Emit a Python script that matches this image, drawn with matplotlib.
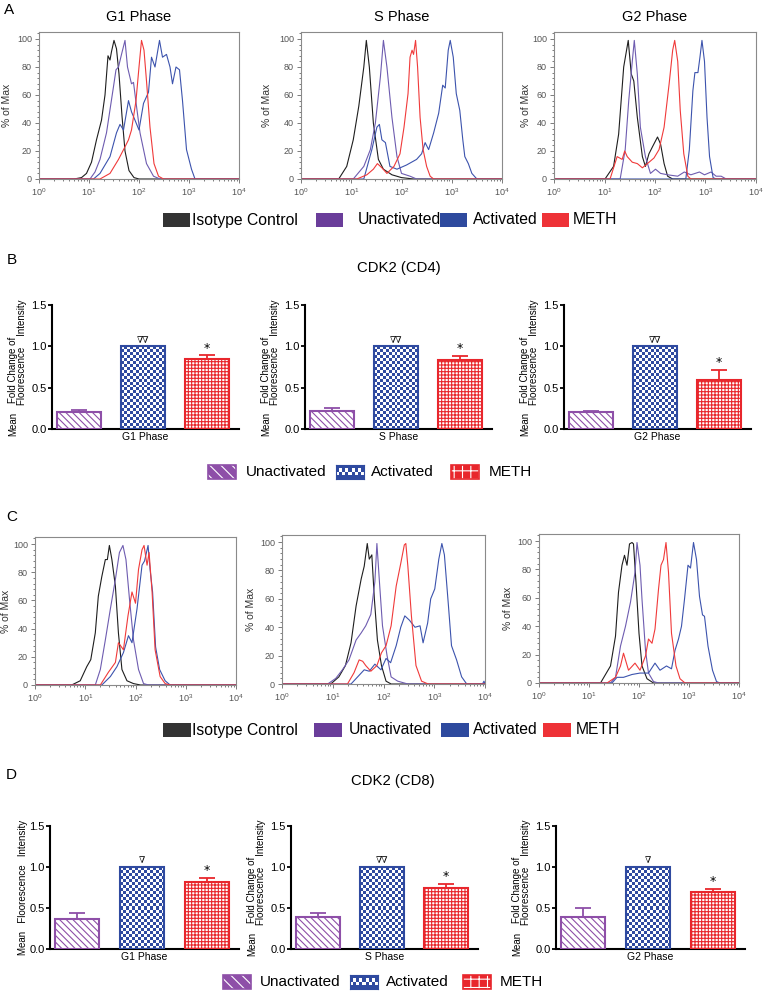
import numpy as np
import matplotlib
matplotlib.use('Agg')
import matplotlib.pyplot as plt
from matplotlib.colors import ListedColormap
from matplotlib.patches import Rectangle
from matplotlib.ticker import AutoMinorLocator

plt.rcParams['font.family'] = ['Liberation Sans', 'DejaVu Sans']
plt.rcParams['hatch.linewidth'] = 0.8

# ---- histogram traces: (log10 intensity, % of max) ----
a_g1_iso = [(0,0),(0.7,0),(0.85,1),(0.95,4),(1.05,12),(1.15,28),(1.25,42),(1.32,60),(1.38,88),(1.42,85),(1.45,91),(1.5,99),(1.55,93),(1.6,75),(1.66,45),(1.72,20),(1.8,6),(1.9,1),(2.0,0),(4,0)]
a_g1_unact = [(0,0),(1.02,0),(1.12,5),(1.22,14),(1.35,33),(1.49,66),(1.54,78),(1.59,80),(1.65,89),(1.72,99),(1.77,80),(1.85,68),(1.89,69),(1.95,52),(2.02,33),(2.15,11),(2.29,2),(2.42,0),(4,0)]
a_g1_act = [(0,0),(1.09,0),(1.22,4),(1.42,16),(1.55,33),(1.62,39),(1.69,35),(1.79,56),(1.85,48),(1.92,42),(2.0,35),(2.09,54),(2.19,62),(2.25,87),(2.32,80),(2.41,99),(2.47,87),(2.55,89),(2.62,80),(2.67,68),(2.74,80),(2.81,78),(2.87,56),(2.95,21),(3.05,7),(3.12,0),(4,0)]
a_g1_meth = [(0,0),(1.22,0),(1.42,4),(1.59,14),(1.72,23),(1.79,28),(1.85,35),(1.94,56),(2.0,80),(2.05,99),(2.1,92),(2.15,70),(2.22,37),(2.3,11),(2.39,2),(2.49,0),(4,0)]

a_s_iso = [(0,0),(0.75,0),(0.91,9),(1.04,28),(1.15,52),(1.25,80),(1.3,99),(1.36,80),(1.44,40),(1.54,14),(1.64,7),(1.81,3),(2.0,1),(2.24,0),(4,0)]
a_s_unact = [(0,0),(1.04,0),(1.25,9),(1.38,21),(1.48,40),(1.58,73),(1.64,99),(1.71,80),(1.81,44),(1.91,16),(2.0,4),(2.17,2),(2.3,0),(4,0)]
a_s_act = [(0,0),(1.25,0),(1.41,21),(1.51,37),(1.56,39),(1.61,28),(1.68,26),(1.77,9),(1.91,7),(2.1,10),(2.3,14),(2.4,18),(2.47,26),(2.54,21),(2.64,33),(2.74,47),(2.82,67),(2.87,65),(2.93,92),(2.97,99),(3.03,87),(3.09,61),(3.16,49),(3.22,28),(3.26,16),(3.33,11),(3.4,4),(3.5,0),(4,0)]
a_s_meth = [(0,0),(1.11,0),(1.31,3),(1.44,7),(1.52,11),(1.61,8),(1.71,4),(1.85,9),(1.97,18),(2.05,37),(2.13,61),(2.17,87),(2.21,92),(2.24,89),(2.28,99),(2.32,80),(2.37,44),(2.43,21),(2.5,9),(2.57,2),(2.64,0),(4,0)]

a_g2_iso = [(0,0),(1.01,0),(1.18,9),(1.28,32),(1.38,80),(1.47,99),(1.53,75),(1.58,70),(1.65,44),(1.75,16),(1.81,9),(1.88,18),(1.95,23),(2.05,30),(2.11,25),(2.18,11),(2.25,2),(2.35,0),(4,0)]
a_g2_unact = [(0,0),(1.31,0),(1.41,21),(1.48,56),(1.55,84),(1.59,99),(1.65,75),(1.71,37),(1.81,16),(1.91,4),(2.01,7),(2.11,4),(2.25,3),(2.45,2),(2.58,5),(2.71,3),(2.88,5),(2.98,3),(3.11,5),(3.21,2),(3.31,2),(3.41,0),(4,0)]
a_g2_act = [(0,0),(2.61,0),(2.68,21),(2.75,63),(2.79,76),(2.85,76),(2.89,87),(2.93,99),(2.98,84),(3.03,44),(3.08,16),(3.15,1),(3.21,0),(4,0)]
a_g2_meth = [(0,0),(1.11,0),(1.25,16),(1.35,14),(1.4,20),(1.45,16),(1.55,12),(1.65,11),(1.75,8),(1.85,11),(1.98,15),(2.08,21),(2.18,37),(2.28,68),(2.35,92),(2.39,99),(2.45,84),(2.5,49),(2.57,18),(2.65,2),(2.71,0),(4,0)]

c_g1_iso = [(0,0),(0.73,0),(0.9,3),(1.03,13),(1.11,18),(1.2,37),(1.26,63),(1.33,77),(1.4,89),(1.44,89),(1.48,99),(1.53,89),(1.6,70),(1.66,37),(1.73,11),(1.83,3),(1.96,1),(2.1,0),(4,0)]
c_g1_unact = [(0,0),(1.2,0),(1.3,11),(1.4,32),(1.5,54),(1.6,75),(1.68,94),(1.75,99),(1.81,89),(1.88,61),(1.96,32),(2.06,11),(2.16,1),(2.26,0),(4,0)]
c_g1_act = [(0,0),(1.33,0),(1.5,6),(1.63,13),(1.76,23),(1.86,35),(1.93,30),(2.03,54),(2.13,85),(2.18,88),(2.25,99),(2.29,82),(2.34,66),(2.4,27),(2.48,11),(2.59,3),(2.69,0),(4,0)]
c_g1_meth = [(0,0),(1.3,0),(1.46,9),(1.6,16),(1.66,30),(1.76,25),(1.85,49),(1.93,66),(2.0,58),(2.06,82),(2.13,96),(2.17,99),(2.23,85),(2.27,94),(2.33,66),(2.39,25),(2.49,6),(2.59,1),(2.69,0),(4,0)]

c_s_iso = [(0,0),(0.96,0),(1.12,5),(1.25,13),(1.36,29),(1.46,55),(1.56,74),(1.62,83),(1.68,99),(1.72,88),(1.77,91),(1.82,60),(1.88,31),(1.96,13),(2.05,2),(2.15,0),(4,0)]
c_s_unact = [(0,0),(0.9,0),(1.06,4),(1.19,10),(1.32,17),(1.46,31),(1.56,36),(1.65,41),(1.75,49),(1.83,72),(1.87,99),(1.92,72),(1.98,41),(2.07,20),(2.15,5),(2.28,2),(2.48,0),(4,0)]
c_s_act = [(0,0),(1.36,0),(1.49,5),(1.62,10),(1.72,9),(1.83,14),(1.95,10),(2.05,18),(2.14,15),(2.25,27),(2.34,40),(2.42,48),(2.51,45),(2.62,40),(2.72,41),(2.78,29),(2.87,43),(2.93,60),(3.01,67),(3.09,88),(3.15,99),(3.2,91),(3.28,55),(3.34,27),(3.44,17),(3.54,5),(3.64,0),(3.95,0),(3.98,2),(4,0)]
c_s_meth = [(0,0),(1.29,0),(1.42,8),(1.52,17),(1.59,16),(1.65,13),(1.75,9),(1.87,13),(1.96,22),(2.05,27),(2.15,41),(2.25,69),(2.34,85),(2.41,98),(2.44,99),(2.48,83),(2.55,48),(2.64,13),(2.75,2),(2.88,0),(4,0)]

c_g2_iso = [(0,0),(1.23,0),(1.43,12),(1.53,33),(1.59,64),(1.66,83),(1.71,90),(1.76,83),(1.81,98),(1.86,99),(1.89,98),(1.94,71),(2.0,35),(2.06,12),(2.16,3),(2.29,0),(4,0)]
c_g2_unact = [(0,0),(1.43,0),(1.53,4),(1.63,26),(1.73,40),(1.83,57),(1.92,78),(1.96,99),(2.02,83),(2.06,59),(2.13,23),(2.19,7),(2.29,1),(2.39,0),(4,0)]
c_g2_act = [(0,0),(1.46,0),(1.56,4),(1.69,4),(1.86,6),(2.02,7),(2.19,7),(2.32,14),(2.42,9),(2.55,12),(2.65,10),(2.72,23),(2.79,31),(2.85,40),(2.91,59),(2.98,83),(3.03,81),(3.09,99),(3.15,87),(3.21,61),(3.27,48),(3.31,47),(3.38,26),(3.47,9),(3.55,1),(3.62,0),(4,0)]
c_g2_meth = [(0,0),(1.36,0),(1.53,4),(1.63,12),(1.69,21),(1.79,9),(1.92,14),(2.02,9),(2.13,19),(2.19,31),(2.26,28),(2.32,38),(2.39,66),(2.44,83),(2.49,87),(2.54,99),(2.59,78),(2.65,35),(2.74,12),(2.82,3),(2.92,0),(4,0)]

# ---- bar chart values ----
phases = ['G1 Phase', 'S Phase', 'G2 Phase']
groups = ['Unactivated', 'Activated', 'METH']
hist_groups = ['Isotype Control', 'Unactivated', 'Activated', 'METH']

cd4_unact = [0.21, 0.22, 0.20]
cd4_unact_err = [0.02, 0.04, 0.02]
cd4_act = [1.0, 1.0, 1.0]
cd4_meth = [0.85, 0.84, 0.59]
cd4_meth_err = [0.04, 0.04, 0.12]
cd4_marks = ['\u2207\u2207', '\u2207\u2207', '\u2207\u2207']

cd8_unact = [0.37, 0.39, 0.39]
cd8_unact_err = [0.07, 0.05, 0.11]
cd8_act = [1.0, 1.0, 1.0]
cd8_meth = [0.82, 0.75, 0.69]
cd8_meth_err = [0.05, 0.04, 0.04]
cd8_marks = ['\u2207', '\u2207\u2207', '\u2207']

line_colors = ['#1e1e1e', '#6e5cb0', '#3c53ad', '#f03a3a']
legend_colors = ['#333333', '#6a3d9a', '#2e4a9e', '#ee3237']
c_unact = '#8e4fa8'
c_act = '#2f4aa0'
c_meth = '#e8262c'

W, H = 764, 998
fig = plt.figure(figsize=(W / 100, H / 100), dpi=100)


def add_ax(l, t, r, b):
    return fig.add_axes([l / W, 1 - b / H, (r - l) / W, (b - t) / H])


def ftext(x, y, s, **kw):
    fig.text(x / W, 1 - y / H, s, **kw)


def hist_panel(ax, curves, label_dx, title=None):
    for pts, col in zip(curves, line_colors):
        arr = np.array(pts)
        ax.plot(10 ** arr[:, 0], arr[:, 1], color=col, lw=0.8)
    ax.set_xscale('log')
    ax.set_xlim(1, 1e4)
    ax.set_ylim(0, 105)
    ax.set_yticks(range(0, 101, 20))
    ax.yaxis.set_minor_locator(AutoMinorLocator(5))
    for s in ax.spines.values():
        s.set_color('#8a8a8a')
        s.set_linewidth(0.8)
    ax.tick_params(which='both', labelsize=6.5, colors='#666', labelcolor='#555',
                   width=0.6, pad=2)
    ax.tick_params(which='major', length=3)
    ax.tick_params(which='minor', length=1.5)
    ax.set_ylabel('% of Max', fontsize=7.5, color='#333')
    # label anchor given in pixels left of the axis line
    ax.yaxis.set_label_coords(-label_dx / ax.bbox.width, 0.5)
    if title:
        ax.set_title(title, fontsize=10.5, pad=8)


def checker(ax, patch, color, cell=3.0):
    x0, y0 = patch.get_x(), patch.get_y()
    w, h = patch.get_width(), patch.get_height()
    (px0, py0), (px1, py1) = ax.transData.transform([(x0, y0), (x0 + w, y0 + h)])
    nx = max(1, int(round((px1 - px0) / cell)))
    ny = max(1, int(round((py1 - py0) / cell)))
    img = np.add.outer(np.arange(ny), np.arange(nx)) % 2
    ax.imshow(img, cmap=ListedColormap(['white', color]), extent=(x0, x0 + w, y0, y0 + h),
              aspect='auto', interpolation='nearest', zorder=2)


def bar_panel(ax, i, unact, unact_err, act, meth, meth_err, marks, ylab):
    x = np.arange(3)
    ax.set_xlim(-0.42, 2.5)
    ax.set_ylim(0, 1.5)
    bw = 0.68
    ax.bar(x[0], unact[i], bw, facecolor='white', edgecolor=c_unact,
           hatch='\\' * 5, lw=1.5, zorder=3)
    bars = ax.bar(x[1], act[i], bw, facecolor='none', edgecolor=c_act, lw=1.5, zorder=3)
    checker(ax, bars[0], c_act)
    ax.bar(x[2], meth[i], bw, facecolor='white', edgecolor=c_meth, hatch='+' * 5,
           lw=1.5, zorder=3)
    ax.errorbar([x[0]], [unact[i]], yerr=[[0], [unact_err[i]]], fmt='none', ecolor=c_unact,
                elinewidth=1.3, capsize=6, capthick=1.3, zorder=2.5)
    ax.errorbar([x[2]], [meth[i]], yerr=[[0], [meth_err[i]]], fmt='none', ecolor=c_meth,
                elinewidth=1.3, capsize=6, capthick=1.3, zorder=2.5)
    ax.text(x[1], act[i] + 0.02, marks[i], ha='center', va='bottom', fontsize=6.5,
            family=['DejaVu Serif'])
    ax.text(x[2], meth[i] + meth_err[i] + 0.01, '*', ha='center', va='bottom', fontsize=9,
            family=['DejaVu Sans'])
    ax.set_xlim(-0.42, 2.5)
    ax.set_ylim(0, 1.5)
    ax.set_yticks([0, 0.5, 1.0, 1.5])
    ax.set_yticklabels(['0.0', '0.5', '1.0', '1.5'])
    ax.set_xticks([])
    ax.set_xlabel(phases[i], fontsize=7.5, labelpad=2)
    for s in ['top', 'right']:
        ax.spines[s].set_visible(False)
    for s in ['left', 'bottom']:
        ax.spines[s].set_linewidth(1.5)
    ax.tick_params(axis='y', labelsize=8, width=1.3, length=3, pad=1)
    # two-column y label, as laid out in the original
    inv = ax.transAxes.inverted()
    p0 = ax.transAxes.transform((0, 0))

    def ax_xy(dx, dy):
        return inv.transform((p0[0] + dx, p0[1] + dy))
    kw = dict(rotation=90, fontsize=7, transform=ax.transAxes, ha='center')
    if ylab == 'single':
        ax.text(*ax_xy(-27, -6), 'Mean   Floorescence   Intensity', va='bottom', **kw)
    else:
        ax.text(*ax_xy(-39, -7), 'Mean', va='bottom', **kw)
        ax.text(*ax_xy(-39, 26), 'Fold Change of', va='bottom', **kw)
        ax.text(*ax_xy(-30, 24), 'Floorescence    Intensity', va='bottom', **kw)


def fig_patch(l, t, w, h, color, hatch=None, kind='plain'):
    x0, y0 = l / W, 1 - (t + h) / H
    if kind == 'checker':
        a = fig.add_axes([x0, y0, w / W, h / H])
        img = np.add.outer(np.arange(4), np.arange(9)) % 2
        img[0, :] = 1
        img[-1, :] = 1
        a.imshow(img, cmap=ListedColormap(['white', color]), aspect='auto',
                 interpolation='nearest')
        a.set_xticks([])
        a.set_yticks([])
        for s in a.spines.values():
            s.set_color(color)
        return
    fig.add_artist(Rectangle((x0, y0), w / W, h / H, transform=fig.transFigure,
                             facecolor=color, edgecolor='white' if hatch else color,
                             hatch=hatch, lw=0))
    if hatch:
        fig.add_artist(Rectangle((x0, y0), w / W, h / H, transform=fig.transFigure,
                                 fill=False, edgecolor=color, lw=1.2))


# ---------------- row A ----------------
ax = add_ax(39, 32, 239, 179)
hist_panel(ax, [a_g1_iso, a_g1_unact, a_g1_act, a_g1_meth], 27, 'G1 Phase')
ax = add_ax(301, 32, 502, 179)
hist_panel(ax, [a_s_iso, a_s_unact, a_s_act, a_s_meth], 29, 'S Phase')
ax = add_ax(554, 32, 756, 179)
hist_panel(ax, [a_g2_iso, a_g2_unact, a_g2_act, a_g2_meth], 23, 'G2 Phase')

for (pl, tl), col, name in zip([(163, 192), (316, 358), (440, 473), (542, 573)],
                               legend_colors, hist_groups):
    fig_patch(pl, 213, 27, 14, col)
    ftext(tl, 220, name, fontsize=11.3, va='center')

# ---------------- row B ----------------
ftext(399, 268, 'CDK2 (CD4)', fontsize=10.7, ha='center', va='center')
for i, (l, r) in enumerate([(52, 239), (305, 492), (564, 751)]):
    ax = add_ax(l, 305, r, 429)
    bar_panel(ax, i, cd4_unact, cd4_unact_err, cd4_act, cd4_meth, cd4_meth_err,
              cd4_marks, 'split')

bar_legend_b = [(208, 246), (336, 371), (451, 489)]
bar_legend_d = [(223, 260), (350, 386), (463, 500)]
for legpos, yc in [(bar_legend_b, 472), (bar_legend_d, 982)]:
    (p0, t0), (p1, t1), (p2, t2) = legpos
    fig_patch(p0, yc - 7, 28, 14, c_unact, hatch='\\\\\\')
    fig_patch(p1, yc - 7, 28, 14, c_act, kind='checker')
    fig_patch(p2, yc - 7, 28, 14, c_meth, hatch='++')
    for tx, name in zip([t0, t1, t2], groups):
        ftext(tx, yc, name, fontsize=11, va='center')

# ---------------- row C ----------------
ax = add_ax(35, 537, 236, 685)
hist_panel(ax, [c_g1_iso, c_g1_unact, c_g1_act, c_g1_meth], 24)
ax = add_ax(282, 535, 485, 684)
hist_panel(ax, [c_s_iso, c_s_unact, c_s_act, c_s_meth], 26)
ax = add_ax(539, 534, 739, 683)
hist_panel(ax, [c_g2_iso, c_g2_unact, c_g2_act, c_g2_meth], 26)

for (pl, tl), col, name in zip([(163, 192), (314, 349), (441, 473), (543, 576)],
                               legend_colors, hist_groups):
    fig_patch(pl, 723, 28, 14, col)
    ftext(tl, 730, name, fontsize=11.3, va='center')

# ---------------- row D ----------------
ftext(393, 781, 'CDK2 (CD8)', fontsize=10.7, ha='center', va='center')
for i, (l, r) in enumerate([(50, 239), (291, 478), (556, 745)]):
    ax = add_ax(l, 826, r, 949)
    bar_panel(ax, i, cd8_unact, cd8_unact_err, cd8_act, cd8_meth, cd8_meth_err,
              cd8_marks, 'single' if i == 0 else 'split')

# panel letters
for letter, (x, y) in zip('ABCD', [(4, 3), (7, 253), (6, 510), (6, 768)]):
    ftext(x, y, letter, fontsize=11, va='top')

fig.savefig('out.png', dpi=100)
